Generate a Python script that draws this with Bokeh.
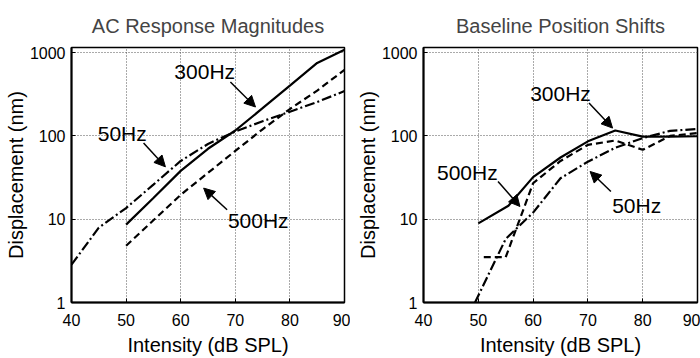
from bokeh.plotting import figure
from bokeh.layouts import row
from bokeh.models import Range1d, FixedTicker, NumeralTickFormatter, Label, Arrow, NormalHead
from bokeh.embed import file_html
from bokeh.resources import INLINE

# ---- data: AC response magnitudes (nm) ----
ac_50_x = [40, 45, 50, 55, 60, 65, 70, 75, 80, 85, 90]
ac_50_y = [2.85, 7.9, 13.6, 26, 50, 80, 113, 150, 195, 255, 345]
ac_300_x = [50, 55, 60, 65, 70, 75, 80, 85, 90]
ac_300_y = [8.6, 18, 38, 70, 116, 215, 400, 750, 1080]
ac_500_x = [50, 55, 60, 65, 70, 75, 80, 85, 90]
ac_500_y = [4.8, 9.7, 19.6, 36, 66, 120, 210, 350, 620]

# ---- data: baseline position shifts (nm) ----
bs_50_x = [49.4, 55, 60, 65, 70, 75, 80, 85, 90]
bs_50_y = [1.0, 5.8, 12, 31, 49, 72, 94, 115, 121]
bs_300_x = [50, 55.5, 60, 65, 70, 75, 80, 85, 90]
bs_300_y = [8.9, 14.5, 32, 55, 86, 116, 98, 98, 99]
bs_500_x = [51, 55, 60, 65, 70, 75, 80, 85, 90]
bs_500_y = [3.5, 3.5, 27, 50, 78, 88, 68, 100, 108]

x_ticks = [40, 50, 60, 70, 80, 90]
y_ticks = [1, 10, 100, 1000]

FONT = "Liberation Sans"
DASH = "7 4"
DASHDOT = "10 3 2 3"


def make_fig(title, left_border, right_border):
    p = figure(width=350, height=358, output_backend="svg", toolbar_location=None,
               x_range=Range1d(40, 90), y_range=Range1d(1, 1150), y_axis_type="log",
               min_border_left=left_border, min_border_right=right_border,
               min_border_top=47, min_border_bottom=55,
               background_fill_color="white", border_fill_color="white")
    p.title.text = title
    p.title.text_font = FONT
    p.title.text_font_size = "20px"
    p.title.text_font_style = "normal"
    p.title.align = "center"
    p.title.standoff = 21
    p.outline_line_color = "black"
    p.outline_line_width = 1.5
    p.outline_line_alpha = 1
    for ax in (p.xaxis[0], p.yaxis[0]):
        ax.axis_line_width = 2
        ax.axis_line_color = "black"
        ax.major_tick_in = 4
        ax.major_tick_out = 0
        ax.minor_tick_line_color = None
        ax.major_label_text_font = FONT
        ax.major_label_text_font_size = "16px"
        ax.major_label_text_color = "black"
        ax.axis_label_text_font = FONT
        ax.axis_label_text_font_size = "20px"
        ax.axis_label_text_font_style = "normal"
        ax.axis_label_text_color = "black"
    p.xaxis.ticker = FixedTicker(ticks=x_ticks)
    p.yaxis.ticker = FixedTicker(ticks=y_ticks)
    p.yaxis.formatter = NumeralTickFormatter(format="0")
    p.xaxis.axis_label = "Intensity (dB SPL)"
    p.yaxis.axis_label = "Displacement (nm)"
    p.xaxis.major_label_standoff = 11
    p.yaxis.major_label_standoff = 6
    p.xaxis.axis_label_standoff = 5
    p.yaxis.axis_label_standoff = 0
    for g in (p.xgrid[0], p.ygrid[0]):
        g.grid_line_color = "#444444"
        g.grid_line_dash = "1 2"
        g.grid_line_width = 1
        g.grid_line_alpha = 0.9
    return p


def add_lines(p, x50, y50, x300, y300, x500, y500):
    p.line(x50, y50, line_color="black", line_width=2.2, line_dash=DASHDOT)
    p.line(x300, y300, line_color="black", line_width=2.2)
    p.line(x500, y500, line_color="black", line_width=2.2, line_dash=DASH)


def annotate(p, text, tx, ty, x0, y0, x1, y1):
    p.add_layout(Label(x=tx, y=ty, text=text, text_font=FONT, text_font_size="21px",
                       text_align="center", text_baseline="middle", text_color="black"))
    p.add_layout(Arrow(x_start=x0, y_start=y0, x_end=x1, y_end=y1,
                       line_color="black", line_width=1.5,
                       end=NormalHead(size=11, fill_color="black", line_color="black")))


p1 = make_fig("AC Response Magnitudes", 71, 6)
add_lines(p1, ac_50_x, ac_50_y, ac_300_x, ac_300_y, ac_500_x, ac_500_y)
annotate(p1, "50Hz", 49.3, 107, 53.2, 82, 57.2, 42.5)
annotate(p1, "300Hz", 64.4, 590, 69.1, 443, 73.7, 222)
annotate(p1, "500Hz", 74.2, 9.6, 68.5, 13, 64.2, 23.6)

p2 = make_fig("Baseline Position Shifts", 73, 3)
add_lines(p2, bs_50_x, bs_50_y, bs_300_x, bs_300_y, bs_500_x, bs_500_y)
annotate(p2, "300Hz", 65.0, 320, 70.2, 248, 74.5, 124)
annotate(p2, "500Hz", 48.0, 36.6, 53.6, 28.4, 57.6, 14.2)
annotate(p2, "50Hz", 78.9, 14.7, 74.2, 21.5, 70.4, 37.4)

layout = row(p1, p2)
open("out.html", "w").write(file_html(layout, INLINE))
